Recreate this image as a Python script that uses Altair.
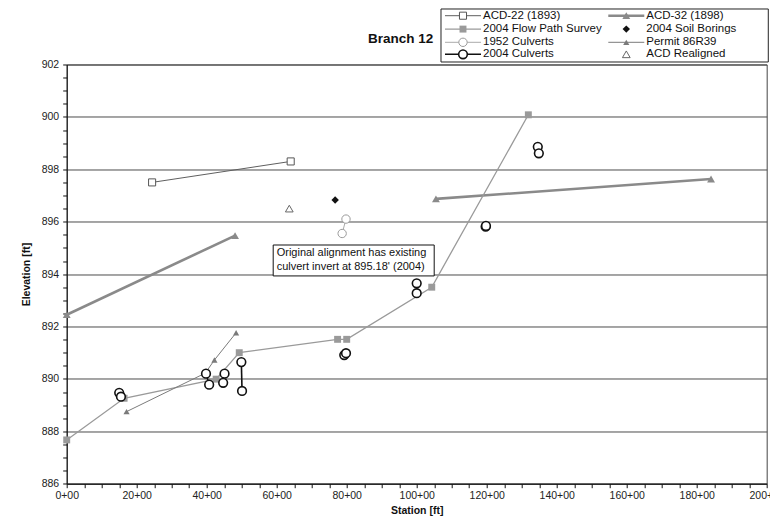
import altair as alt
import pandas as pd

# ---------------- data: station (x 100 ft) and elevation (ft) ----------------
acd22_station = [24.4, 64.0]
acd22_elev = [897.5, 898.3]

flow_station = [0.0, 16.4, 42.7, 49.3, 77.4, 80.0, 104.3, 131.9]
flow_elev = [887.67, 889.26, 889.99, 891.0, 891.51, 891.51, 893.5, 900.08]

culv1952_station = [79.8, 78.7]
culv1952_elev = [896.1, 895.55]

culv2004_station = [15.0, 15.5, 39.8, 40.7, 45.1, 44.7, 49.9, 50.1,
                    79.3, 79.8, 100.0, 100.0, 119.7, 119.8, 134.6, 134.9]
culv2004_elev = [889.47, 889.32, 890.2, 889.78, 890.2, 889.85, 890.64, 889.54,
                 890.91, 890.98, 893.65, 893.27, 895.81, 895.84, 898.86, 898.61]
culv2004_group = [1, 1, 2, 2, 3, 3, 4, 4, 5, 5, 6, 6, 7, 7, 8, 8]

acd32_station = [0.0, 48.1, 105.5, 184.1]
acd32_elev = [892.45, 895.47, 896.87, 897.63]
acd32_group = [1, 1, 2, 2]

boring_station = [76.7]
boring_elev = [896.83]

permit_station = [17.1, 39.6, 42.2, 48.4]
permit_elev = [888.75, 890.22, 890.72, 891.76]
permit_marked = [True, False, True, True]

realigned_station = [63.6]
realigned_elev = [896.5]

x_ticks = list(range(0, 201, 5))
y_ticks = [886 + 0.5 * i for i in range(33)]

legend_col1 = ["ACD-22 (1893)", "2004 Flow Path Survey", "1952 Culverts", "2004 Culverts"]
legend_col2 = ["ACD-32 (1898)", "2004 Soil Borings", "Permit 86R39", "ACD Realigned"]
note_lines = ["Original alignment has existing", "culvert invert at 895.18' (2004)"]
chart_title = "Branch 12"

# ---------------- layout / style ----------------
FONT = "Liberation Sans"
W, H = 700, 419.2
xs = alt.Scale(domain=[0, 200], nice=False, zero=False)
ys = alt.Scale(domain=[886, 902], nice=False, zero=False)
maj_x = "datum.value % 20 === 0"
maj_y = "datum.value % 2 === 0"

x_axis = alt.Axis(values=x_ticks, labelExpr=f"{maj_x} ? datum.value + '+00' : ''",
                  title="Station [ft]", grid=False, labelFlush=False, labelOverlap=False,
                  tickSize=4, labelPadding=3, titlePadding=4)
y_axis = alt.Axis(values=y_ticks, labelExpr=f"{maj_y} ? format(datum.value, 'd') : ''",
                  title="Elevation [ft]", grid=True, gridColor="#4a4a4a", gridWidth=1,
                  gridOpacity={"condition": {"test": maj_y, "value": 1}, "value": 0},
                  labelOverlap=False, tickSize=4, labelPadding=4, titlePadding=10)

X = alt.X("x:Q", scale=xs, axis=x_axis)
Y = alt.Y("y:Q", scale=ys, axis=y_axis)


def frame(st, el, grp=None, mk=None):
    n = len(st)
    return pd.DataFrame({"x": st, "y": el,
                         "g": grp if grp else [1] * n,
                         "mk": mk if mk else [True] * n,
                         "i": list(range(n))})


def line_layer(df, **style):
    return alt.Chart(df).mark_line(**style).encode(x=X, y=Y, detail="g:N", order="i:Q")


def point_layer(df, **style):
    return alt.Chart(df).transform_filter("datum.mk").mark_point(**style).encode(x=X, y=Y)


acd22 = frame(acd22_station, acd22_elev)
flow = frame(flow_station, flow_elev)
c1952 = frame(culv1952_station, culv1952_elev)
c2004 = frame(culv2004_station, culv2004_elev, culv2004_group)
acd32 = frame(acd32_station, acd32_elev, acd32_group)
boring = frame(boring_station, boring_elev)
permit = frame(permit_station, permit_elev, mk=permit_marked)
realigned = frame(realigned_station, realigned_elev)

LINE = {
    "acd22": dict(color="#5e5e5e", strokeWidth=1),
    "flow": dict(color="#9a9a9a", strokeWidth=1.3),
    "c1952": dict(color="#aaaaaa", strokeWidth=1),
    "c2004": dict(color="#111111", strokeWidth=1.6),
    "acd32": dict(color="#8a8a8a", strokeWidth=2.6),
    "permit": dict(color="#7a7a7a", strokeWidth=1),
}
PT = {
    "acd22": dict(shape="square", filled=True, fill="white", stroke="#555555", strokeWidth=1, size=50, opacity=1),
    "flow": dict(shape="square", filled=True, color="#9a9a9a", size=48, opacity=1),
    "c1952": dict(shape="circle", filled=True, fill="white", stroke="#9a9a9a", strokeWidth=1, size=70, opacity=1),
    "c2004": dict(shape="circle", filled=True, fill="white", stroke="#111111", strokeWidth=1.6, size=75, opacity=1),
    "acd32": dict(shape="triangle-up", filled=True, color="#8a8a8a", size=62, opacity=1),
    "boring": dict(shape="diamond", filled=True, color="#111111", size=55, opacity=1),
    "permit": dict(shape="triangle-up", filled=True, color="#7a7a7a", size=38, opacity=1),
    "realigned": dict(shape="triangle-up", filled=True, fill="white", stroke="#666666", strokeWidth=1, size=60, opacity=1),
}

layers = [
    line_layer(acd32, **LINE["acd32"]),
    line_layer(flow, **LINE["flow"]),
    line_layer(permit, **LINE["permit"]),
    line_layer(acd22, **LINE["acd22"]),
    line_layer(c1952, **LINE["c1952"]),
    line_layer(c2004, **LINE["c2004"]),
    point_layer(acd32, **PT["acd32"]),
    point_layer(flow, **PT["flow"]),
    point_layer(permit, **PT["permit"]),
    point_layer(acd22, **PT["acd22"]),
    point_layer(c1952, **PT["c1952"]),
    point_layer(c2004, **PT["c2004"]),
    point_layer(boring, **PT["boring"]),
    point_layer(realigned, **PT["realigned"]),
]

# annotation box (in data units)
box = pd.DataFrame({"x": [59.0], "x2": [105.0], "y": [893.93], "y2": [895.11]})
layers.append(alt.Chart(box).mark_rect(fill="white", stroke="#111", strokeWidth=1).encode(
    x=X, x2="x2:Q", y=Y, y2="y2:Q"))
note = pd.DataFrame({"x": [60.0, 60.0], "y": [894.82, 894.28], "t": note_lines})
layers.append(alt.Chart(note).mark_text(align="left", baseline="middle", font=FONT, fontSize=11,
                                        color="#111").encode(x=X, y=Y, text="t:N"))

# legend (pixel positions relative to plot origin)
one = pd.DataFrame({"t": [chart_title]})
layers.append(alt.Chart(one).mark_rect(fill="white", stroke="#222", strokeWidth=1).encode(
    x=alt.value(374.3), x2=alt.value(701.6), y=alt.value(-55.5), y2=alt.value(-2.5)))
layers.append(alt.Chart(one).mark_text(align="right", baseline="middle", font=FONT, fontSize=13.5,
                                       fontWeight="bold", color="#111").encode(
    x=alt.value(366.6), y=alt.value(-25.5), text="t:N"))

rows_y = [-48.8, -35.4, -22.2, -10.2]
col_keys = [["acd22", "flow", "c1952", "c2004"], ["acd32", "boring", "permit", "realigned"]]
col_x = [378.3, 541.6]
for ci, labels in enumerate([legend_col1, legend_col2]):
    x0 = col_x[ci]
    for ri, lab in enumerate(labels):
        key = col_keys[ci][ri]
        yy = rows_y[ri]
        d = pd.DataFrame({"t": [lab]})
        if key in LINE:
            layers.append(alt.Chart(d).mark_rule(**LINE[key]).encode(
                x=alt.value(x0), x2=alt.value(x0 + 36), y=alt.value(yy)))
        layers.append(alt.Chart(d).mark_point(**PT[key]).encode(
            x=alt.value(x0 + 18), y=alt.value(yy)))
        layers.append(alt.Chart(d).mark_text(align="left", baseline="middle", font=FONT,
                                             fontSize=11.5, color="#111").encode(
            x=alt.value(x0 + 38), y=alt.value(yy), text="t:N"))

chart = alt.layer(*layers).properties(
    width=W, height=H,
    padding={"left": 58.7, "top": 56.5, "right": 3, "bottom": 32},
    autosize=alt.AutoSizeParams(type="none"),
    background="white",
).configure_view(stroke="#444", strokeWidth=1).configure_axis(
    labelFont=FONT, titleFont=FONT, labelFontSize=10.5, titleFontSize=10.5,
    labelColor="#222", titleColor="#111", domainColor="#111", tickColor="#111",
    titleFontWeight="bold",
)

chart.save("out.html", embed_options={"renderer": "svg", "actions": False})
